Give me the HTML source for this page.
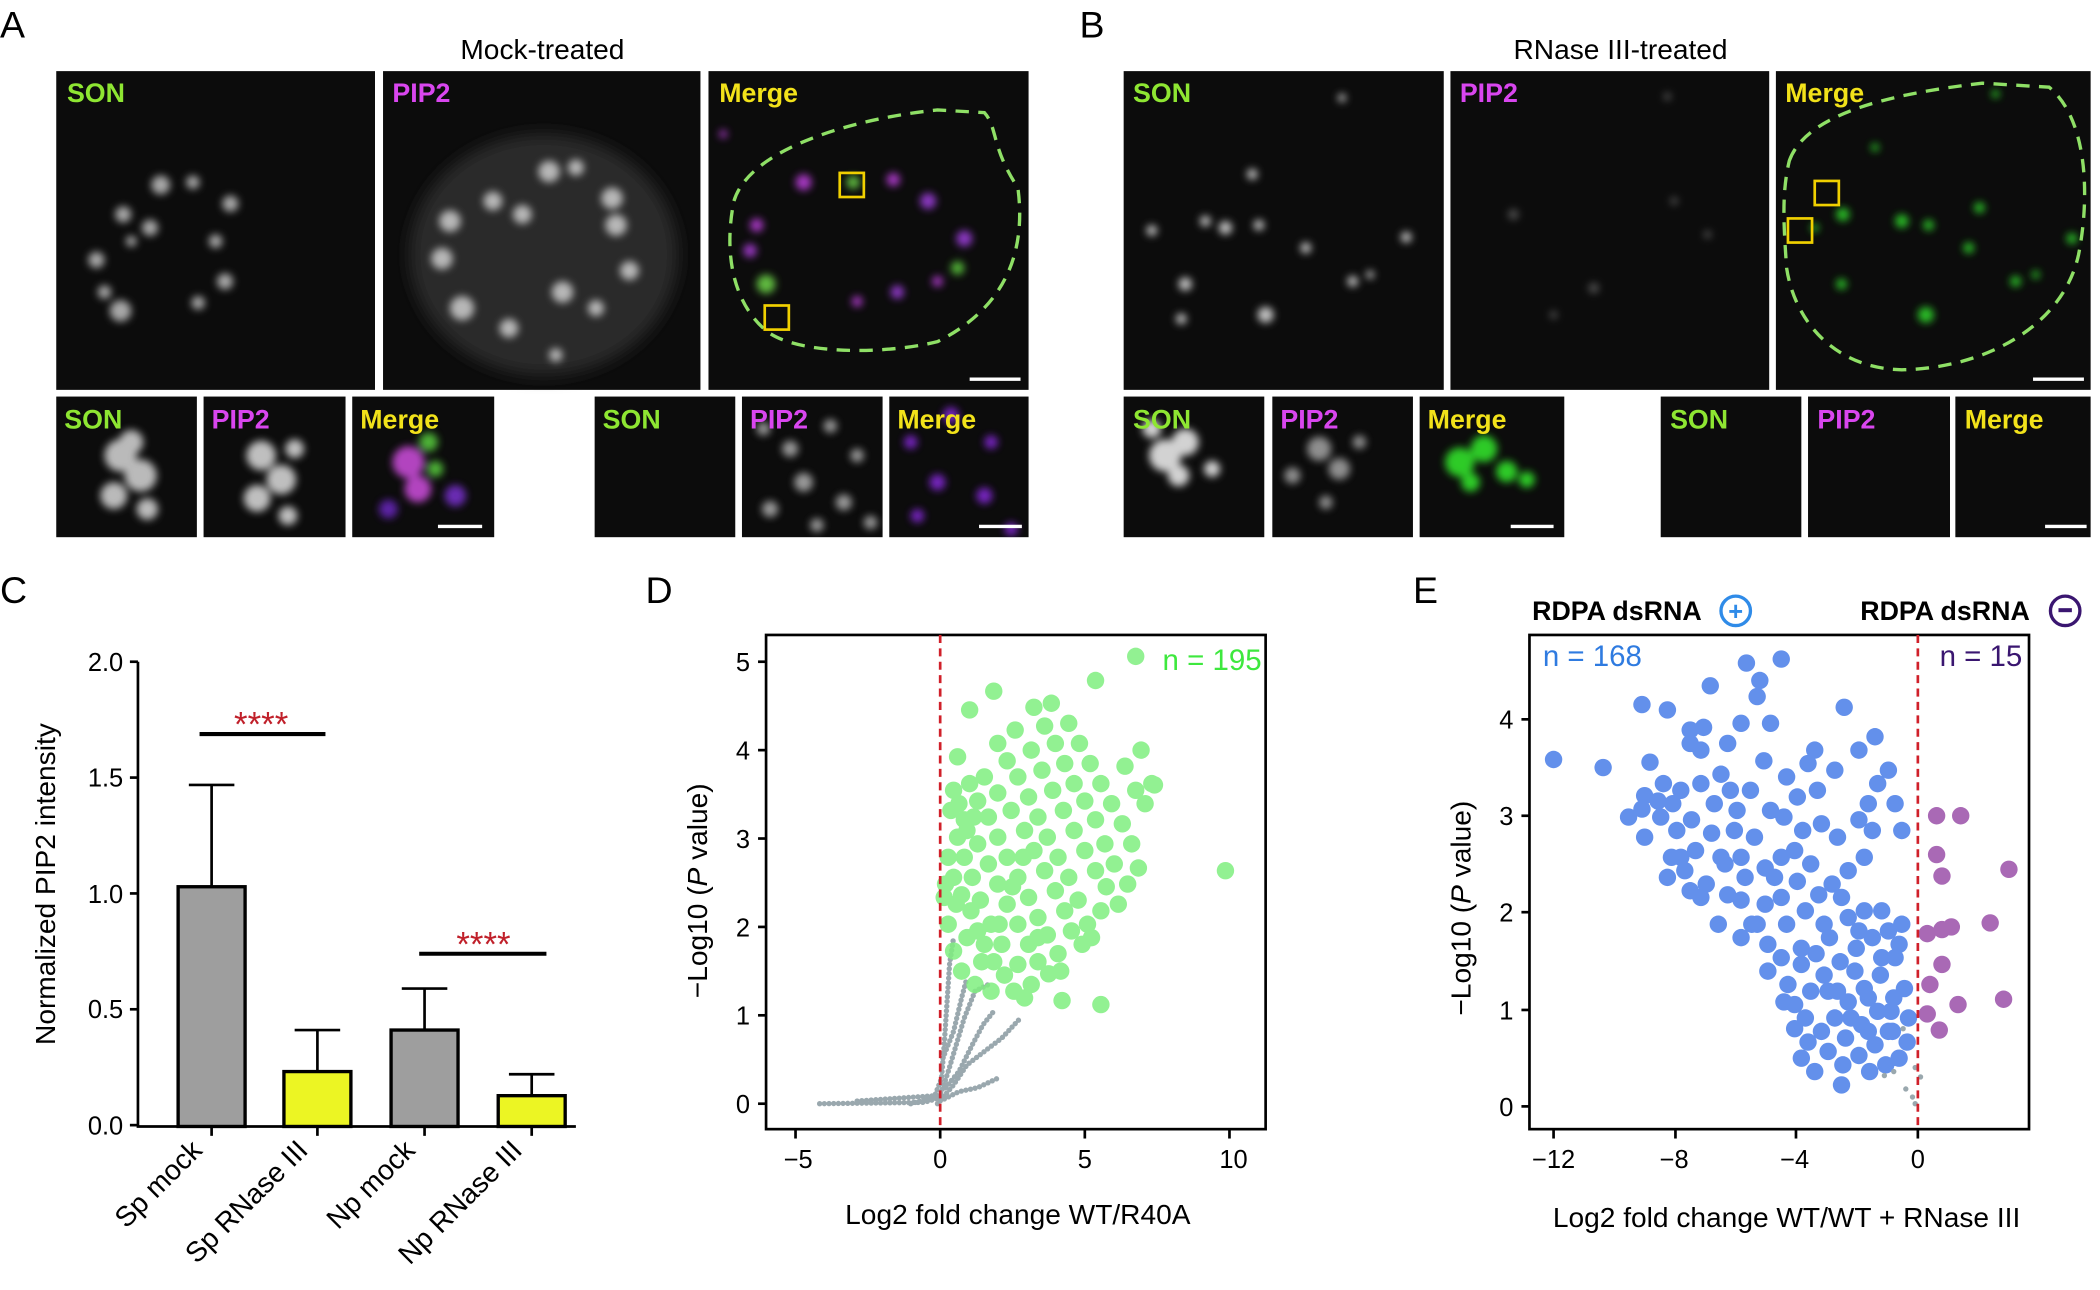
<!DOCTYPE html>
<html><head><meta charset="utf-8">
<style>
html,body{margin:0;padding:0;background:#fff;}
svg{display:block;font-family:"Liberation Sans",sans-serif;}
.lab{font-weight:bold;font-size:20px;}
.big{font-size:28px;}
</style></head>
<body>
<svg xmlns="http://www.w3.org/2000/svg" width="2100" height="1290" viewBox="0 0 1568 963">
<defs>
<filter id="bl" x="-50%" y="-50%" width="200%" height="200%"><feGaussianBlur stdDeviation="3"/></filter>
<filter id="bl2" x="-50%" y="-50%" width="200%" height="200%"><feGaussianBlur stdDeviation="6"/></filter>
<clipPath id="c1"><rect x="42" y="296" width="105" height="105"/></clipPath>
<clipPath id="c2"><rect x="152" y="296" width="106" height="105"/></clipPath>
<clipPath id="c3"><rect x="263" y="296" width="106" height="105"/></clipPath>
<clipPath id="c4"><rect x="554" y="296" width="105" height="105"/></clipPath>
<clipPath id="c5"><rect x="664" y="296" width="104" height="105"/></clipPath>
<clipPath id="c6"><rect x="839" y="296" width="105" height="105"/></clipPath>
<clipPath id="c7"><rect x="950" y="296" width="105" height="105"/></clipPath>
<clipPath id="c8"><rect x="1060" y="296" width="108" height="105"/></clipPath>
</defs>
<rect width="1568" height="963" fill="#fff"/>
<text x="0" y="28" class="big">A</text>
<text x="806" y="28" class="big">B</text>
<text x="0" y="450" class="big">C</text>
<text x="482" y="450" class="big">D</text>
<text x="1055" y="450" class="big">E</text>
<text x="405" y="44" text-anchor="middle" font-size="21">Mock-treated</text>
<text x="1210" y="44" text-anchor="middle" font-size="21">RNase III-treated</text>

<!-- image backgrounds -->
<g fill="#0c0c0c">
<rect x="42" y="53" width="238" height="238"/><rect x="286" y="53" width="237" height="238"/><rect x="529" y="53" width="239" height="238"/>
<rect x="839" y="53" width="239" height="238"/><rect x="1083" y="53" width="238" height="238"/><rect x="1326" y="53" width="235" height="238"/>
<rect x="42" y="296" width="105" height="105"/><rect x="152" y="296" width="106" height="105"/><rect x="263" y="296" width="106" height="105"/>
<rect x="444" y="296" width="105" height="105"/><rect x="554" y="296" width="105" height="105"/><rect x="664" y="296" width="104" height="105"/>
<rect x="839" y="296" width="105" height="105"/><rect x="950" y="296" width="105" height="105"/><rect x="1060" y="296" width="108" height="105"/>
<rect x="1240" y="296" width="105" height="105"/><rect x="1350" y="296" width="106" height="105"/><rect x="1460" y="296" width="101" height="105"/>
</g>
<!-- A SON -->
<g fill="#cfcfcf" filter="url(#bl)" opacity="0.8">
<circle cx="120" cy="138" r="7"/><circle cx="144" cy="136" r="5"/><circle cx="92" cy="160" r="6"/><circle cx="112" cy="170" r="6"/><circle cx="172" cy="152" r="6"/><circle cx="161" cy="180" r="5"/>
<circle cx="72" cy="194" r="6"/><circle cx="90" cy="232" r="8"/><circle cx="168" cy="210" r="6"/><circle cx="148" cy="226" r="5"/><circle cx="98" cy="180" r="4"/><circle cx="78" cy="218" r="5"/>
</g>
<!-- A PIP2 -->
<rect x="306" y="100" width="200" height="180" rx="100" fill="#2a2a2a" filter="url(#bl2)"/>
<g fill="#d0d0d0" filter="url(#bl)" opacity="0.85">
<circle cx="336" cy="165" r="8"/><circle cx="330" cy="193" r="8"/><circle cx="368" cy="150" r="7"/><circle cx="390" cy="160" r="7"/><circle cx="410" cy="128" r="8"/><circle cx="430" cy="125" r="6"/>
<circle cx="457" cy="148" r="8"/><circle cx="460" cy="168" r="8"/><circle cx="470" cy="202" r="7"/><circle cx="345" cy="230" r="9"/><circle cx="380" cy="245" r="7"/><circle cx="420" cy="218" r="8"/><circle cx="445" cy="230" r="6"/><circle cx="415" cy="265" r="5"/>
</g>
<!-- A merge -->
<g filter="url(#bl)" opacity="0.85">
<circle cx="600" cy="136" r="6" fill="#c040e0"/><circle cx="637" cy="136" r="5" fill="#6ed84a"/><circle cx="667" cy="134" r="5" fill="#c040e0"/><circle cx="693" cy="150" r="6" fill="#a040e0"/>
<circle cx="565" cy="168" r="5" fill="#c040e0"/><circle cx="560" cy="187" r="5" fill="#b040e0"/><circle cx="720" cy="178" r="6" fill="#a040e0"/><circle cx="715" cy="200" r="5" fill="#5ed040"/>
<circle cx="572" cy="212" r="7" fill="#6ed84a"/><circle cx="640" cy="225" r="4" fill="#c040e0"/><circle cx="670" cy="218" r="5" fill="#a040e0"/><circle cx="700" cy="210" r="4" fill="#c040e0"/><circle cx="540" cy="100" r="3" fill="#c040e0"/>
</g>
<!-- A small -->
<g clip-path="url(#c1)"><g fill="#dadada" filter="url(#bl)" opacity="0.85"><circle cx="90" cy="340" r="12"/><circle cx="105" cy="355" r="12"/><circle cx="85" cy="370" r="10"/><circle cx="110" cy="380" r="8"/><circle cx="98" cy="330" r="9"/></g></g>
<g clip-path="url(#c2)"><g fill="#e0e0e0" filter="url(#bl)" opacity="0.85"><circle cx="195" cy="340" r="11"/><circle cx="210" cy="358" r="11"/><circle cx="192" cy="372" r="10"/><circle cx="215" cy="385" r="7"/><circle cx="220" cy="335" r="7"/></g></g>
<g clip-path="url(#c3)"><g filter="url(#bl)" opacity="0.85"><circle cx="305" cy="345" r="12" fill="#d050e0"/><circle cx="320" cy="330" r="7" fill="#5ad040"/><circle cx="312" cy="365" r="10" fill="#d050e0"/><circle cx="325" cy="350" r="6" fill="#5ad040"/><circle cx="340" cy="370" r="8" fill="#7a30d0"/><circle cx="290" cy="380" r="7" fill="#6a28c0"/></g></g>
<g clip-path="url(#c4)"><g fill="#bdbdbd" filter="url(#bl)" opacity="0.8"><circle cx="570" cy="320" r="5"/><circle cx="590" cy="335" r="6"/><circle cx="620" cy="318" r="5"/><circle cx="640" cy="340" r="5"/><circle cx="600" cy="360" r="7"/><circle cx="575" cy="380" r="6"/><circle cx="630" cy="375" r="6"/><circle cx="610" cy="392" r="5"/><circle cx="650" cy="390" r="5"/></g></g>
<g clip-path="url(#c5)"><g fill="#8a2ae0" filter="url(#bl)" opacity="0.85"><circle cx="680" cy="330" r="5"/><circle cx="710" cy="310" r="6"/><circle cx="740" cy="330" r="5"/><circle cx="700" cy="360" r="6"/><circle cx="735" cy="370" r="6"/><circle cx="685" cy="385" r="5"/><circle cx="755" cy="395" r="5"/></g></g>
<!-- B SON -->
<g fill="#e0e0e0" filter="url(#bl)" opacity="0.85">
<circle cx="1002" cy="73" r="3"/><circle cx="935" cy="130" r="4"/><circle cx="900" cy="165" r="4"/><circle cx="915" cy="170" r="5"/><circle cx="940" cy="168" r="4"/><circle cx="860" cy="172" r="4"/>
<circle cx="1050" cy="177" r="4"/><circle cx="975" cy="185" r="4"/><circle cx="1010" cy="210" r="4"/><circle cx="885" cy="212" r="5"/><circle cx="945" cy="235" r="6"/><circle cx="882" cy="238" r="4"/><circle cx="1023" cy="205" r="3"/>
</g>
<!-- B merge -->
<g fill="#2ed02a" filter="url(#bl)" opacity="0.9">
<circle cx="1490" cy="70" r="3"/><circle cx="1376" cy="160" r="5"/><circle cx="1420" cy="165" r="5"/><circle cx="1440" cy="168" r="4"/><circle cx="1355" cy="170" r="3"/><circle cx="1478" cy="155" r="4"/>
<circle cx="1547" cy="178" r="4"/><circle cx="1470" cy="185" r="4"/><circle cx="1505" cy="210" r="4"/><circle cx="1375" cy="212" r="4"/><circle cx="1438" cy="235" r="6"/><circle cx="1400" cy="110" r="3"/><circle cx="1520" cy="205" r="3"/>
</g>
<g fill="#c8c8c8" opacity="0.35" filter="url(#bl)"><circle cx="1130" cy="160" r="4"/><circle cx="1250" cy="150" r="3"/><circle cx="1190" cy="215" r="4"/><circle cx="1160" cy="235" r="3"/><circle cx="1275" cy="175" r="3"/><circle cx="1245" cy="72" r="3"/></g>
<!-- B small -->
<g clip-path="url(#c6)"><g fill="#e8e8e8" filter="url(#bl)" opacity="0.9"><circle cx="870" cy="340" r="12"/><circle cx="885" cy="330" r="10"/><circle cx="880" cy="355" r="8"/><circle cx="860" cy="320" r="7"/><circle cx="905" cy="350" r="6"/></g></g>
<g clip-path="url(#c7)"><g fill="#b0b0b0" filter="url(#bl)" opacity="0.8"><circle cx="985" cy="335" r="9"/><circle cx="1000" cy="350" r="8"/><circle cx="965" cy="355" r="6"/><circle cx="1015" cy="330" r="5"/><circle cx="990" cy="375" r="5"/></g></g>
<g clip-path="url(#c8)"><g fill="#32e02a" filter="url(#bl)" opacity="0.9"><circle cx="1090" cy="345" r="11"/><circle cx="1108" cy="335" r="10"/><circle cx="1125" cy="352" r="8"/><circle cx="1140" cy="358" r="6"/><circle cx="1098" cy="360" r="7"/></g></g>

<path d="M548,150 C560,110 640,88 700,82 L735,84 C745,95 740,110 760,140 C768,200 740,235 700,255 C660,265 590,265 570,245 C548,225 540,190 548,150 Z" fill="none" stroke="#8fe066" stroke-width="2.5" stroke-dasharray="10,7"/>
<rect x="627" y="129" width="18" height="18" fill="none" stroke="#f0d000" stroke-width="2"/>
<rect x="571" y="228" width="18" height="18" fill="none" stroke="#f0d000" stroke-width="2"/>
<path d="M1336,120 C1350,80 1430,68 1480,62 L1530,65 C1560,90 1560,150 1552,190 C1540,245 1480,275 1420,276 C1370,275 1340,240 1334,200 C1332,170 1330,145 1336,120 Z" fill="none" stroke="#8fe066" stroke-width="2.5" stroke-dasharray="10,7"/>
<rect x="1355" y="135" width="18" height="18" fill="none" stroke="#f0d000" stroke-width="2"/>
<rect x="1335" y="163" width="18" height="18" fill="none" stroke="#f0d000" stroke-width="2"/>
<g stroke="#fff" stroke-width="2.5">
<line x1="724" y1="283" x2="762" y2="283"/><line x1="327" y1="393" x2="360" y2="393"/><line x1="731" y1="393" x2="763" y2="393"/>
<line x1="1518" y1="283" x2="1556" y2="283"/><line x1="1128" y1="393" x2="1160" y2="393"/><line x1="1527" y1="393" x2="1558" y2="393"/>
</g>
<g class="lab">
<text x="50" y="76" fill="#8ee632">SON</text><text x="293" y="76" fill="#d946ef">PIP2</text><text x="537" y="76" fill="#f2e21a">Merge</text>
<text x="48" y="320" fill="#8ee632">SON</text><text x="158" y="320" fill="#d946ef">PIP2</text><text x="269" y="320" fill="#f2e21a">Merge</text>
<text x="450" y="320" fill="#8ee632">SON</text><text x="560" y="320" fill="#d946ef">PIP2</text><text x="670" y="320" fill="#f2e21a">Merge</text>
<text x="846" y="76" fill="#8ee632">SON</text><text x="1090" y="76" fill="#d946ef">PIP2</text><text x="1333" y="76" fill="#f2e21a">Merge</text>
<text x="846" y="320" fill="#8ee632">SON</text><text x="956" y="320" fill="#d946ef">PIP2</text><text x="1066" y="320" fill="#f2e21a">Merge</text>
<text x="1247" y="320" fill="#8ee632">SON</text><text x="1357" y="320" fill="#d946ef">PIP2</text><text x="1467" y="320" fill="#f2e21a">Merge</text>
</g>

<!-- Panel C -->
<g font-size="19">
<g stroke="#000" stroke-width="2" fill="none">
<line x1="103" y1="494" x2="103" y2="841"/>
<line x1="102" y1="841" x2="430" y2="841"/>
<line x1="97" y1="494" x2="103" y2="494"/><line x1="97" y1="580.5" x2="103" y2="580.5"/><line x1="97" y1="667" x2="103" y2="667"/><line x1="97" y1="753.5" x2="103" y2="753.5"/><line x1="97" y1="840" x2="103" y2="840"/>
<line x1="158" y1="841" x2="158" y2="848"/><line x1="237" y1="841" x2="237" y2="848"/><line x1="317" y1="841" x2="317" y2="848"/><line x1="397" y1="841" x2="397" y2="848"/>
<line x1="158" y1="662" x2="158" y2="586"/><line x1="141" y1="586" x2="175" y2="586"/>
<line x1="237" y1="800" x2="237" y2="769"/><line x1="220" y1="769" x2="254" y2="769"/>
<line x1="317" y1="769" x2="317" y2="738"/><line x1="300" y1="738" x2="334" y2="738"/>
<line x1="397" y1="818" x2="397" y2="802"/><line x1="380" y1="802" x2="414" y2="802"/>
</g>
<rect x="133" y="662" width="50" height="179" fill="#9e9e9e" stroke="#000" stroke-width="2.5"/>
<rect x="212" y="800" width="50" height="41" fill="#ecf523" stroke="#000" stroke-width="2.5"/>
<rect x="292" y="769" width="50" height="72" fill="#9e9e9e" stroke="#000" stroke-width="2.5"/>
<rect x="372" y="818" width="50" height="23" fill="#ecf523" stroke="#000" stroke-width="2.5"/>
<line x1="149" y1="548" x2="243" y2="548" stroke="#000" stroke-width="3"/>
<line x1="313" y1="712" x2="408" y2="712" stroke="#000" stroke-width="3"/>
<text x="195" y="550" text-anchor="middle" fill="#c0202a" font-size="26">****</text>
<text x="361" y="714" text-anchor="middle" fill="#c0202a" font-size="26">****</text>
<g text-anchor="end">
<text x="92" y="501">2.0</text><text x="92" y="587">1.5</text><text x="92" y="674">1.0</text><text x="92" y="760">0.5</text><text x="92" y="847">0.0</text>
</g>
<text transform="translate(41,660) rotate(-90)" text-anchor="middle" font-size="21">Normalized PIP2 intensity</text>
<g text-anchor="end" font-size="21">
<text transform="translate(152,860) rotate(-45)">Sp mock</text>
<text transform="translate(231,860) rotate(-45)">Sp RNase III</text>
<text transform="translate(311,860) rotate(-45)">Np mock</text>
<text transform="translate(391,860) rotate(-45)">Np RNase III</text>
</g>
</g>

<!-- Panel D -->
<g font-size="19">
<g fill="none" stroke="#9aa8ae" stroke-linecap="round" stroke-width="4" stroke-dasharray="0,3.5">
<path d="M612,824 L690,823 L700,820"/>
<path d="M640,822 L698,818 L703,805 L705,780 L707,750 L709,720 L712,700"/>
<path d="M680,824 L702,818 L708,800 L714,780 L720,760 L728,740 L738,735"/>
<path d="M700,824 L712,810 L722,795 L735,785 L748,775 L762,760"/>
<path d="M702,822 L716,815 L730,812 L745,805"/>
<path d="M704,790 L712,770 L718,745 L722,730"/>
<path d="M706,812 L716,800 L726,780 L734,765 L742,755"/>
</g>
<path fill="none" stroke="#7fee7f" stroke-opacity="0.85" stroke-linecap="round" stroke-width="13" d="M712,590h0M716,600h0M720,612h0M708,640h0M712,655h0M718,668h0M725,680h0M730,695h0M735,705h0M742,718h0M750,728h0M757,740h0M765,745h0M770,735h0M760,720h0M748,705h0M740,690h0M732,672h0M726,655h0M720,640h0M715,625h0M722,620h0M730,630h0M738,645h0M745,660h0M752,675h0M760,690h0M768,705h0M775,718h0M783,727h0M790,712h0M782,698h0M775,685h0M768,670h0M760,655h0M752,640h0M745,625h0M738,610h0M730,598h0M724,585h0M735,580h0M745,592h0M755,605h0M765,620h0M772,635h0M780,650h0M788,665h0M795,680h0M800,695h0M808,705h0M812,690h0M805,672h0M798,655h0M790,640h0M782,625h0M775,610h0M768,595h0M760,580h0M752,568h0M745,555h0M758,545h0M770,560h0M778,575h0M786,590h0M794,605h0M802,620h0M810,635h0M818,650h0M826,662h0M832,645h0M825,630h0M818,612h0M810,598h0M802,585h0M795,570h0M788,555h0M780,542h0M772,528h0M785,525h0M798,540h0M806,555h0M814,570h0M822,585h0M830,600h0M838,615h0M845,630h0M850,648h0M842,660h0M835,675h0M822,680h0M815,700h0M822,750h0M793,747h0M855,600h0M860,585h0M848,590h0M840,572h0M852,560h0M818,508h0M742,516h0M724,530h0M715,565h0M708,690h0M712,710h0M718,725h0M705,670h0M740,740h0M728,735h0M848,490h0M915,650h0M862,586h0M710,605h0M706,660h0M714,675h0M722,700h0M733,718h0M746,690h0M756,662h0M764,640h0M727,610h0M792,725h0M775,700h0"/>
<rect x="572" y="474" width="373" height="369" fill="none" stroke="#000" stroke-width="2"/>
<line x1="702" y1="474" x2="702" y2="843" stroke="#d0202a" stroke-width="2" stroke-dasharray="6,4"/>
<g stroke="#000" stroke-width="2">
<line x1="566" y1="824" x2="572" y2="824"/><line x1="566" y1="758" x2="572" y2="758"/><line x1="566" y1="692" x2="572" y2="692"/><line x1="566" y1="626" x2="572" y2="626"/><line x1="566" y1="560" x2="572" y2="560"/><line x1="566" y1="494" x2="572" y2="494"/>
<line x1="594" y1="843" x2="594" y2="850"/><line x1="702" y1="843" x2="702" y2="850"/><line x1="810" y1="843" x2="810" y2="850"/><line x1="918" y1="843" x2="918" y2="850"/>
</g>
<g text-anchor="end"><text x="560" y="831">0</text><text x="560" y="765">1</text><text x="560" y="699">2</text><text x="560" y="633">3</text><text x="560" y="567">4</text><text x="560" y="501">5</text></g>
<g text-anchor="middle"><text x="596" y="872">−5</text><text x="702" y="872">0</text><text x="810" y="872">5</text><text x="921" y="872">10</text></g>
<text x="760" y="914" text-anchor="middle" font-size="21">Log2 fold change WT/R40A</text>
<text transform="translate(528,665) rotate(-90)" text-anchor="middle" font-size="21">−Log10 (<tspan font-style="italic">P</tspan> value)</text>
<text x="942" y="500" text-anchor="end" fill="#3ee83e" font-size="22">n = 195</text>
</g>

<!-- Panel E -->
<g font-size="19">
<path fill="none" stroke="#3c74e6" stroke-opacity="0.8" stroke-linecap="round" stroke-width="13" d="M1160,567h0M1197,573h0M1232,569h0M1228,594h0M1226,526h0M1245,530h0M1262,545h0M1272,543h0M1277,512h0M1304,495h0M1330,492h0M1314,508h0M1312,520h0M1377,528h0M1400,550h0M1249,600h0M1252,620h0M1263,612h0M1270,585h0M1285,578h0M1297,605h0M1307,590h0M1322,605h0M1310,625h0M1300,640h0M1288,645h0M1278,622h0M1266,635h0M1258,650h0M1245,655h0M1274,660h0M1290,668h0M1303,655h0M1318,648h0M1330,640h0M1340,635h0M1346,620h0M1352,645h0M1342,658h0M1330,670h0M1318,675h0M1308,690h0M1320,705h0M1334,690h0M1348,680h0M1358,668h0M1368,660h0M1380,650h0M1392,640h0M1398,620h0M1388,612h0M1372,625h0M1360,615h0M1357,590h0M1342,595h0M1332,610h0M1355,560h0M1370,575h0M1388,560h0M1395,600h0M1402,585h0M1410,575h0M1415,600h0M1420,620h0M1405,680h0M1392,680h0M1380,685h0M1366,700h0M1356,712h0M1345,720h0M1335,735h0M1340,750h0M1352,740h0M1362,728h0M1374,718h0M1386,708h0M1398,700h0M1410,695h0M1420,690h0M1415,715h0M1404,728h0M1392,738h0M1380,748h0M1370,760h0M1360,770h0M1350,778h0M1340,768h0M1365,785h0M1378,775h0M1390,765h0M1402,755h0M1414,745h0M1422,738h0M1425,760h0M1413,770h0M1400,780h0M1388,788h0M1376,795h0M1396,800h0M1408,795h0M1418,790h0M1424,778h0M1412,755h0M1355,800h0M1345,790h0M1375,810h0M1395,770h0M1330,715h0M1320,725h0M1312,690h0M1300,700h0M1283,690h0M1270,670h0M1255,640h0M1240,610h0M1255,590h0M1242,585h0M1280,600h0M1292,590h0M1317,568h0M1334,580h0M1350,570h0M1322,540h0M1290,555h0M1300,540h0M1270,560h0M1262,555h0M1238,598h0M1226,604h0M1216,610h0M1228,625h0M1248,640h0M1262,665h0M1295,620h0M1325,655h0M1345,708h0M1365,740h0M1385,725h0M1405,715h0M1418,705h0M1362,690h0M1375,670h0M1388,695h0M1348,760h0M1332,748h0M1372,740h0M1395,745h0M1410,770h0M1382,760h0M1300,672h0M1285,640h0"/>
<path fill="none" stroke="#9a4fa8" stroke-opacity="0.85" stroke-linecap="round" stroke-width="13" d="M1446,609h0M1464,609h0M1446,638h0M1450,654h0M1500,649h0M1486,689h0M1457,692h0M1450,694h0M1439,697h0M1450,720h0M1441,735h0M1439,757h0M1462,750h0M1448,769h0M1496,746h0"/>
<path fill="none" stroke="#9aa8ae" stroke-linecap="round" stroke-width="4" d="M1407,803h0M1414,800h0M1421,768h0M1430,797h0M1434,804h0M1423,813h0M1428,819h0M1430,824h0"/>
<rect x="1142" y="474" width="373" height="369" fill="none" stroke="#000" stroke-width="2"/>
<line x1="1432" y1="474" x2="1432" y2="843" stroke="#d0202a" stroke-width="2" stroke-dasharray="6,4"/>
<g stroke="#000" stroke-width="2">
<line x1="1136" y1="826" x2="1142" y2="826"/><line x1="1136" y1="754" x2="1142" y2="754"/><line x1="1136" y1="681" x2="1142" y2="681"/><line x1="1136" y1="609" x2="1142" y2="609"/><line x1="1136" y1="537" x2="1142" y2="537"/>
<line x1="1160" y1="843" x2="1160" y2="850"/><line x1="1251" y1="843" x2="1251" y2="850"/><line x1="1341" y1="843" x2="1341" y2="850"/><line x1="1432" y1="843" x2="1432" y2="850"/>
</g>
<g text-anchor="end"><text x="1130" y="833">0</text><text x="1130" y="761">1</text><text x="1130" y="688">2</text><text x="1130" y="616">3</text><text x="1130" y="544">4</text></g>
<g text-anchor="middle"><text x="1160" y="872">−12</text><text x="1250" y="872">−8</text><text x="1340" y="872">−4</text><text x="1432" y="872">0</text></g>
<text x="1334" y="916" text-anchor="middle" font-size="21">Log2 fold change WT/WT + RNase III</text>
<text transform="translate(1098,678) rotate(-90)" text-anchor="middle" font-size="21">−Log10 (<tspan font-style="italic">P</tspan> value)</text>
<text x="1152" y="497" fill="#2f7be0" font-size="22">n = 168</text>
<text x="1510" y="497" text-anchor="end" fill="#3a1670" font-size="22">n = 15</text>
<text x="1144" y="463" font-weight="bold" font-size="20">RDPA dsRNA</text>
<circle cx="1296" cy="456" r="11" fill="none" stroke="#2f8be8" stroke-width="2.5"/>
<text x="1296" y="463" text-anchor="middle" fill="#2f8be8" font-weight="bold" font-size="19">+</text>
<text x="1389" y="463" font-weight="bold" font-size="20">RDPA dsRNA</text>
<circle cx="1542" cy="456" r="11" fill="none" stroke="#3a1670" stroke-width="2.5"/>
<rect x="1537" y="454" width="10" height="3" fill="#3a1670"/>
</g>
</svg>
</body></html>
